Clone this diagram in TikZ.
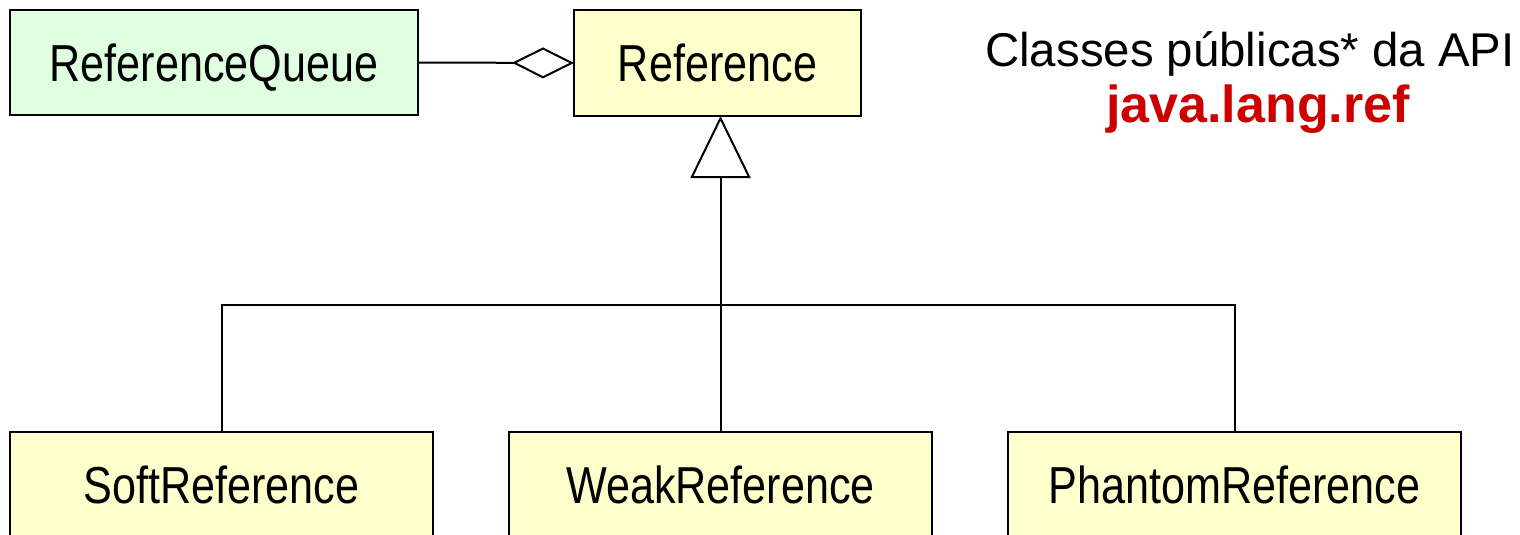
\documentclass[tikz,border=0pt]{standalone}
\usepackage{fontspec}
\setmainfont{Liberation Sans}
\newfontfamily\narrowfont{Liberation Sans}[FakeStretch=0.83]
\usetikzlibrary{arrows.meta}
\definecolor{queuegreen}{RGB}{224,255,224}
\definecolor{classyellow}{RGB}{255,255,204}
\definecolor{pkgred}{RGB}{204,0,0}
\tikzset{
  classbox/.style={draw=black, line width=1pt, inner sep=0pt, outer sep=0pt,
    text height=18.6pt, text depth=0pt,
    font=\narrowfont\fontsize{26}{30}\selectfont},
  link/.style={draw=black, line width=1pt},
  aggregation/.style={link, -{Diamond[open, length=31pt, width=15.5pt, line width=1pt]}},
  generalization/.style={link, -{Triangle[open, length=31pt, width=30pt, line width=1pt]}}
}
\begin{document}
\begin{tikzpicture}[x=0.5pt, y=-0.5pt]
  \useasboundingbox (0,0) rectangle (1520,535);
  \clip (0,0) rectangle (1520,535);

  % classes
  \node[classbox, fill=queuegreen, minimum width=204pt, minimum height=52.5pt]
    (queue) at (214,62.5) {ReferenceQueue};
  \node[classbox, fill=classyellow, minimum width=143.5pt, minimum height=53pt]
    (ref) at (717.5,63) {Reference};
  \node[classbox, fill=classyellow, minimum width=211.5pt, minimum height=53pt]
    (soft) at (221.5,485) {SoftReference};
  \node[classbox, fill=classyellow, minimum width=211.5pt, minimum height=53pt]
    (weak) at (720.5,485) {WeakReference};
  \node[classbox, fill=classyellow, minimum width=226.5pt, minimum height=53pt]
    (phantom) at (1234.5,485) {PhantomReference};

  % heading
  \node[anchor=base, inner sep=0pt, font=\fontsize{23.7}{28}\selectfont]
    (title) at (1250,67) {Classes públicas* da API};
  \node[anchor=base, inner sep=0pt, text=pkgred, font=\bfseries\fontsize{26}{30}\selectfont]
    (pkg) at (1258,123) {java.lang.ref};

  % relations
  \coordinate (junction) at (720,305);
  \path[aggregation] (queue.east) -- (ref.west);
  \path[generalization] (weak.north) -- (weak.north |- ref.south);
  \path[link] (soft.north) |- (junction) -| (phantom.north);
\end{tikzpicture}
\end{document}
